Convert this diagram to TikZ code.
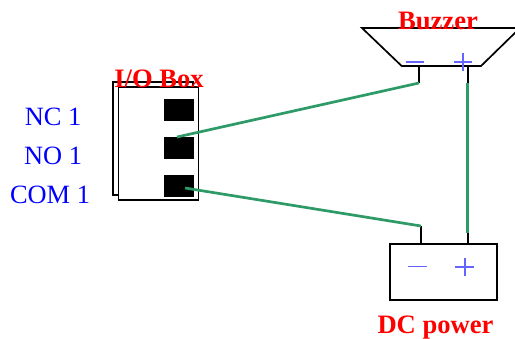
\documentclass[tikz,border=0pt]{standalone}
\usepackage{fontspec}
\setmainfont{Liberation Serif}
\tikzset{
  outline/.style={draw=black,line width=1.9pt,fill=white},
  pin/.style={draw=black,line width=2.4pt},
  terminal/.style={draw=black,fill=black,line width=0pt,minimum width=28.5pt,minimum height=21pt,inner sep=0pt},
  wire/.style={draw=wiregreen,line width=2.7pt},
  polarity/.style={draw=polarblue,line width=1.2pt},
  redlabel/.style={text=red,font=\fontsize{26.6}{26.6}\selectfont\bfseries,anchor=base,inner sep=0pt},
  bluelabel/.style={text=blue,font=\fontsize{26.4}{26.4}\selectfont,anchor=base,inner sep=0pt}
}
\definecolor{wiregreen}{RGB}{46,154,104}
\definecolor{polarblue}{RGB}{100,100,255}
\begin{document}
\begin{tikzpicture}[x=1pt,y=-1pt]
\path[use as bounding box] (0,0) rectangle (515,338);
\clip (0,0) rectangle (515,338);
% I/O box
\node[outline,minimum width=80pt,minimum height=113pt,inner sep=0pt] (back) at (153,138.5) {};
\node[outline,minimum width=80pt,minimum height=113pt,inner sep=0pt] (box) at (158.5,143.5) {};
\node[terminal] (nc) at (178.8,109.7) {};
\node[terminal] (no) at (178.8,147.5) {};
\node[terminal] (com) at (178.8,185.5) {};
% Buzzer
\draw[draw=black,line width=1.7pt,fill=white] (362,28) -- (401.7,66) -- (481,66) -- (520,28) -- cycle;
% DC power
\node[outline,minimum width=106.7pt,minimum height=56.3pt,inner sep=0pt] (dc) at (443.4,271.8) {};
% Anchor points
\coordinate (bzm) at (419,66);
\coordinate (bzmend) at (419,83);
\coordinate (bzp) at (467.7,66);
\coordinate (bzpend) at (467.7,83);
\coordinate (dcm) at (421,243.7);
\coordinate (dcmend) at (421,226);
\coordinate (dcp) at (468,243.7);
\coordinate (dcpend) at (468,226);
\coordinate (nostart) at (177,137);
\coordinate (comstart) at (185,188);
\coordinate (plusend) at (467.7,232.7);
% Pins
\draw[pin] (bzm) -- (bzmend);
\draw[pin] (bzp) -- (bzpend);
\draw[pin] (dcm) -- (dcmend);
\draw[pin] (dcp) -- (dcpend);
% Wires
\draw[wire] (nostart) -- (bzmend);
\draw[wire] (comstart) -- (dcmend);
\draw[wire] (bzpend) -- (plusend);
% Polarity marks
\draw[polarity] (405.7,62) -- (424,62);
\draw[polarity] (453.7,62) -- (472,62);
\draw[polarity] (463,53) -- (463,71);
\draw[polarity] (408,266.7) -- (427,266.7);
\draw[polarity] (455.3,267) -- (474,267);
\draw[polarity] (465,258) -- (465,276);
% Labels
\node[redlabel] (iolabel) at (159,87) {I/O Box};
\node[redlabel] (bzlabel) at (438,29) {Buzzer};
\node[redlabel] (dclabel) at (435.5,333) {DC power};
\node[bluelabel] (nclabel) at (53,125) {NC 1};
\node[bluelabel] (nolabel) at (53,164) {NO 1};
\node[bluelabel] (comlabel) at (50,203) {COM 1};
\end{tikzpicture}
\end{document}
